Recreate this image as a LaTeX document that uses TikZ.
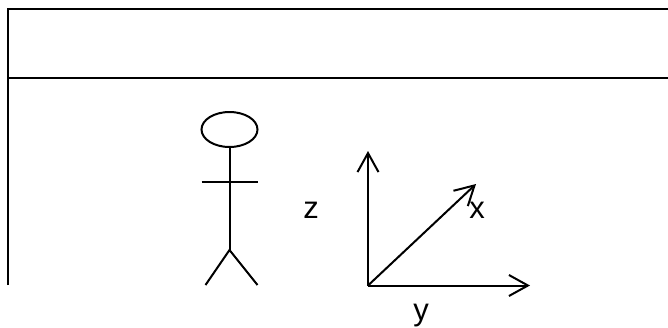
\documentclass[tikz,border=0pt]{standalone}
\usepackage{xcolor}
\usepackage{fontspec}
\setmainfont{Liberation Sans}
\usetikzlibrary{arrows.meta,shapes.geometric}
\tikzset{
  stroke/.style={draw=black, line width=2pt},
  axis/.style={stroke, -{Straight Barb[length=19pt, width=21pt, line width=2pt]}},
  axislabel/.style={inner sep=0pt, font=\fontsize{31}{31}\selectfont}
}

\begin{document}
\begin{tikzpicture}[x=1pt, y=-1pt]
    \useasboundingbox (0,0) rectangle (668,327);
    % frame
    \coordinate (topleft) at (8,8.5);
    \coordinate (topright) at (668,8.5);
    \coordinate (midleft) at (8,77.5);
    \coordinate (midright) at (668,77.5);
    \coordinate (bottomleft) at (8,285);
    \draw[stroke] (bottomleft) -- (topleft) -- (topright);
    \draw[stroke] (midleft) -- (midright);
    % person
    \node[ellipse, stroke, minimum width=56pt, minimum height=35pt, inner sep=0pt] (head) at (229.5,129.5) {};
    \coordinate (hip) at (229.5,250);
    \coordinate (armleft) at (201.5,181.5);
    \coordinate (armright) at (257.5,181.5);
    \coordinate (footleft) at (205.5,285);
    \coordinate (footright) at (257.5,285);
    \draw[stroke] (head.south) -- (hip);
    \draw[stroke] (armleft) -- (armright);
    \draw[stroke] (footleft) -- (hip) -- (footright);
    % axes
    \coordinate (origin) at (368,285.5);
    \coordinate (ztip) at (368,151);
    \coordinate (xtip) at (476,184);
    \coordinate (ytip) at (530,285.5);
    \draw[axis] (origin) -- (ztip);
    \draw[axis] (origin) -- (xtip);
    \draw[axis] (origin) -- (ytip);
    \node[axislabel, anchor=base] (zlabel) at (311,218.5) {z};
    \node[axislabel, anchor=base] (xlabel) at (477,218.5) {x};
    \node[axislabel, anchor=base] (ylabel) at (421,320) {y};
\end{tikzpicture}
\end{document}
